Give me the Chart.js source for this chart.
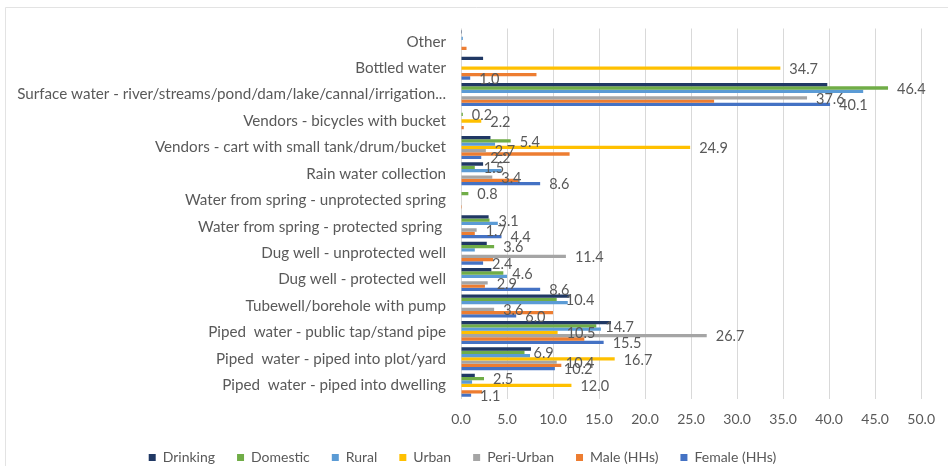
<!DOCTYPE html>
<html>
<head>
<meta charset="utf-8">
<script src="https://cdn.jsdelivr.net/npm/chart.js@4.4.1/dist/chart.umd.min.js"></script>
<style>
  html, body { margin: 0; padding: 0; background: #ffffff; }
  #wrap { position: relative; width: 948px; height: 466px; }
</style>
</head>
<body>
<div id="wrap"><canvas id="chart" width="948" height="466"></canvas></div>
<script>
// Main source of water, % of households, by use, location and household head
const categories = [
  'Other',
  'Bottled water',
  'Surface water - river/streams/pond/dam/lake/cannal/irrigation...',
  'Vendors - bicycles with bucket',
  'Vendors - cart with small tank/drum/bucket',
  'Rain water collection',
  'Water from spring - unprotected spring',
  'Water from spring - protected spring ',
  'Dug well - unprotected well',
  'Dug well - protected well',
  'Tubewell/borehole with pump',
  'Piped  water - public tap/stand pipe',
  'Piped  water - piped into plot/yard',
  'Piped  water - piped into dwelling'
];

const drinking   = [0.1, 2.4, 39.8, null, 3.2, 2.4, null, 3.0, 2.8, 3.3, 11.8, 16.3, 7.6, 1.5];
const domestic   = [null, null, 46.4, 0.2, 5.4, 1.5, 0.8, 3.1, 3.6, 4.6, 10.4, 14.7, 6.9, 2.5];
const rural      = [0.2, null, 43.7, null, 3.7, 4.4, null, 4.0, 1.5, 5.0, 11.6, 15.2, 7.5, 1.2];
const urban      = [null, 34.7, null, 2.2, 24.9, null, null, null, null, null, null, 10.5, 16.7, 12.0];
const periUrban  = [null, null, 37.6, null, 2.7, 3.4, null, 1.7, 11.4, 2.9, 3.6, 26.7, 10.4, null];
const maleHHs    = [0.6, 8.2, 27.5, 0.3, 11.8, 6.2, 0.1, 1.5, 3.5, 2.6, 10.0, 13.4, 10.9, 2.3];
const femaleHHs  = [null, 1.0, 40.1, null, 2.2, 8.6, null, 4.4, 2.4, 8.6, 6.0, 15.5, 10.2, 1.1];

const xTicks = [0, 5, 10, 15, 20, 25, 30, 35, 40, 45, 50];

// series that carry value labels at the bar ends
const labelledSeries = ['Domestic', 'Urban', 'Peri-Urban', 'Female (HHs)'];

const FONT = 'Lato, "Open Sans", sans-serif';
const TEXT = '#595959';

const series = [
  { label: 'Drinking',     data: drinking,  color: '#203864' },
  { label: 'Domestic',     data: domestic,  color: '#70AD47' },
  { label: 'Rural',        data: rural,     color: '#5B9BD5' },
  { label: 'Urban',        data: urban,     color: '#FFC000' },
  { label: 'Peri-Urban',   data: periUrban, color: '#A5A5A5' },
  { label: 'Male (HHs)',   data: maleHHs,   color: '#ED7D31' },
  { label: 'Female (HHs)', data: femaleHHs, color: '#4472C4' }
];

const valueLabels = {
  id: 'valueLabels',
  afterDatasetsDraw(chart) {
    const ctx = chart.ctx;
    ctx.save();
    ctx.font = '14.5px ' + FONT;
    ctx.fillStyle = TEXT;
    ctx.textAlign = 'left';
    ctx.textBaseline = 'middle';
    chart.data.datasets.forEach((ds, i) => {
      if (!labelledSeries.includes(ds.label)) return;
      const meta = chart.getDatasetMeta(i);
      meta.data.forEach((bar, j) => {
        const v = ds.data[j];
        if (v === null || v === undefined) return;
        ctx.fillText(v.toFixed(1), bar.x + 9, bar.y + 1);
      });
    });
    ctx.restore();
  }
};

const frame = {
  id: 'frame',
  beforeDraw(chart) {
    const ctx = chart.ctx;
    ctx.save();
    ctx.fillStyle = '#ffffff';
    ctx.fillRect(0, 0, chart.width, chart.height);
    ctx.strokeStyle = '#e3e3e3';
    ctx.lineWidth = 1;
    ctx.beginPath();
    ctx.moveTo(5.5, chart.height);
    ctx.lineTo(5.5, 7.5);
    ctx.lineTo(chart.width, 7.5);
    ctx.stroke();
    ctx.restore();
  }
};

new Chart(document.getElementById('chart'), {
  type: 'bar',
  data: {
    labels: categories,
    datasets: series.map(s => ({
      label: s.label,
      data: s.data,
      backgroundColor: s.color,
      borderWidth: 0,
      categoryPercentage: 0.87,
      barPercentage: 1.0
    }))
  },
  options: {
    indexAxis: 'y',
    responsive: false,
    animation: false,
    layout: { padding: { top: 28.5, right: 23, bottom: -8.5, left: 0 } },
    scales: {
      x: {
        min: 0,
        max: 50,
        afterBuildTicks(scale) { scale.ticks = xTicks.map(v => ({ value: v })); },
        afterFit(scale) { scale.height = 30; },
        ticks: {
          callback: v => Number(v).toFixed(1),
          color: TEXT,
          font: { family: FONT, size: 14 },
          padding: 13,
          maxRotation: 0
        },
        grid: { color: '#d9d9d9', drawTicks: false },
        border: { display: false }
      },
      y: {
        afterFit(scale) { scale.width = 461; },
        ticks: {
          color: TEXT,
          font: { family: FONT, size: 15.2 },
          padding: 15,
          autoSkip: false
        },
        grid: { display: false, drawTicks: false },
        border: { display: false }
      }
    },
    plugins: {
      legend: {
        position: 'bottom',
        labels: {
          boxWidth: 7,
          boxHeight: 7,
          color: TEXT,
          font: { family: FONT, size: 14 },
          padding: 22
        }
      },
      tooltip: { enabled: false }
    }
  },
  plugins: [frame, valueLabels]
});
</script>
</body>
</html>
